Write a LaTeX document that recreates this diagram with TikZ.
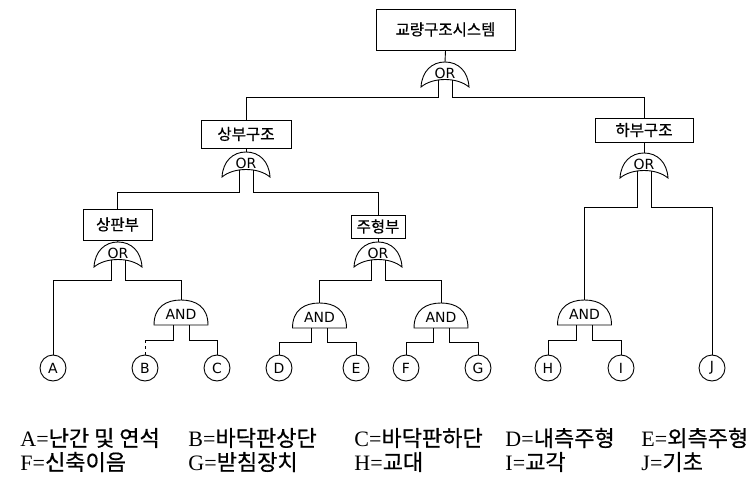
\documentclass[tikz,border=0pt]{standalone}
\usepackage{fontspec}
\setmainfont{Liberation Serif}
\newfontfamily\kr[FakeBold=0.6]{Noto Sans CJK KR}
\newfontfamily\gsans{DejaVu Sans}
\newcommand\orgate[3]{%
  \draw[gate] (#2-24,#3+25) .. controls (#2-23,#3+9) and (#2-13,#3) .. (#2,#3)
    .. controls (#2+13,#3) and (#2+23,#3+9) .. (#2+24,#3+25)
    .. controls (#2+12,#3+15) and (#2-12,#3+15) .. cycle;
  \node[gtext] (#1) at (#2,#3+11) {OR};
  \coordinate (#1t) at (#2,#3);
  \coordinate (#1l) at (#2-7,#3+18);
  \coordinate (#1r) at (#2+7,#3+18);
}
\newcommand\andgate[3]{%
  \draw[gate] (#2-27,#3+25) .. controls (#2-27,#3+7) and (#2-15,#3) .. (#2,#3)
    .. controls (#2+15,#3) and (#2+27,#3+7) .. (#2+27,#3+25) -- cycle;
  \node[gtext] (#1) at (#2,#3+14) {AND};
  \coordinate (#1t) at (#2,#3);
  \coordinate (#1l) at (#2-8,#3+25);
  \coordinate (#1r) at (#2+8,#3+25);
}
\begin{document}
\begin{tikzpicture}[x=1pt,y=-1pt,
  line width=0.9pt,
  gate/.style={draw, line width=0.9pt},
  gtext/.style={font=\gsans\fontsize{14}{14}\selectfont, inner sep=0},
  ebox/.style={draw, line width=0.9pt, inner sep=0, font=\kr\fontsize{15.5}{15.5}\selectfont},
  ev/.style={draw, circle, line width=0.9pt, minimum size=26pt, inner sep=0, font=\gsans\fontsize{14}{14}\selectfont},
  leg/.style={anchor=west, inner sep=0, font=\fontsize{22}{22}\selectfont}
]
\useasboundingbox (0,0) rectangle (751,478);

% boxes
\node[ebox, minimum width=139pt, minimum height=41pt] (T) at (445.5,29.5) {교량구조시스템};
\node[ebox, minimum width=90pt, minimum height=28pt] (S1) at (246,134) {상부구조};
\node[ebox, minimum width=98pt, minimum height=24pt] (S2) at (644,130) {하부구조};
\node[ebox, minimum width=69pt, minimum height=31pt] (P1) at (117.5,224.5) {상판부};
\node[ebox, minimum width=54pt, minimum height=23pt] (P2) at (378,226.5) {주형부};

% gates
\orgate{o1}{445}{62}
\orgate{o2}{246}{152}
\orgate{o3}{118}{242}
\orgate{o4}{378}{242}
\orgate{o5}{644}{153}
\andgate{a1}{181}{300}
\andgate{a2}{319.5}{303}
\andgate{a3}{441}{303}
\andgate{a4}{584.5}{300}

% basic events
\node[ev] (A) at (53,368) {A};
\node[ev] (B) at (145,368) {B};
\node[ev] (C) at (217,368) {C};
\node[ev] (D) at (279,368) {D};
\node[ev] (E) at (356,368) {E};
\node[ev] (F) at (406,368) {F};
\node[ev] (G) at (478,368) {G};
\node[ev] (H) at (548,368) {H};
\node[ev] (I) at (621,368) {I};
\node[ev] (J) at (712,368) {J};

% connectors
\draw (T.south) -- (o1t);
\draw (o1l) -- ++(0,17) -| (S1.north);
\draw (o1r) -- ++(0,17) -| (S2.north);
\draw (S1.south) -- (o2t);
\draw (o2l) -- ++(0,22) -| (P1.north);
\draw (o2r) -- ++(0,22) -| (P2.north);
\draw (P1.south) -- (o3t);
\draw (o3l) -- ++(0,20) -| (A.north);
\draw (o3r) -- ++(0,20) -| (a1t);
\coordinate (bB) at (145,340);
\draw (a1l) |- (bB);
\draw[dashed] (bB) -- (B.north);
\draw (a1r) -- ++(0,15) -| (C.north);
\draw (P2.south) -- (o4t);
\draw (o4l) -- ++(0,20) -| (a2t);
\draw (o4r) -- ++(0,20) -| (a3t);
\draw (a2l) -- ++(0,14) -| (D.north);
\draw (a2r) -- ++(0,14) -| (E.north);
\draw (a3l) -- ++(0,14) -| (F.north);
\draw (a3r) -- ++(0,14) -| (G.north);
\draw (S2.south) -- (o5t);
\draw (o5l) -- ++(0,36) -| (a4t);
\draw (o5r) -- ++(0,36) -| (J.north);
\draw (a4l) -- ++(0,15) -| (H.north);
\draw (a4r) -- ++(0,15) -| (I.north);

% legend
\node[leg] (lA) at (20,438) {A={\kr 난간 및 연석}};
\node[leg] (lB) at (188,438) {B={\kr 바닥판상단}};
\node[leg] (lC) at (354,438) {C={\kr 바닥판하단}};
\node[leg] (lD) at (505,438) {D={\kr 내측주형}};
\node[leg] (lE) at (641,438) {E={\kr 외측주형}};
\node[leg] (lF) at (20,462) {F={\kr 신축이음}};
\node[leg] (lG) at (188,462) {G={\kr 받침장치}};
\node[leg] (lH) at (354,462) {H={\kr 교대}};
\node[leg] (lI) at (505,462) {I={\kr 교각}};
\node[leg] (lJ) at (641,462) {J={\kr 기초}};
\end{tikzpicture}
\end{document}
